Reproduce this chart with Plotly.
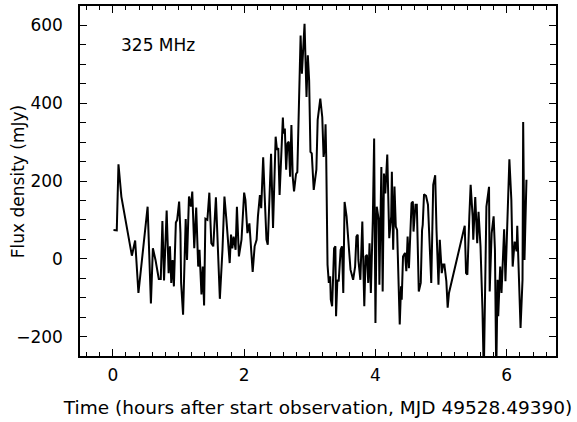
import plotly.graph_objects as go

# Time (hours after start) and flux density (mJy)
time_h = [0.01, 0.06, 0.086, 0.13, 0.29, 0.34, 0.39, 0.53, 0.58, 0.61, 0.65, 0.70, 0.73, 0.755, 0.78,
          0.82, 0.85, 0.87, 0.89, 0.91, 0.93, 0.96, 0.98, 1.01, 1.03, 1.04, 1.07, 1.11, 1.13, 1.16,
          1.19, 1.21, 1.24, 1.27, 1.30, 1.32, 1.35, 1.37, 1.39, 1.41, 1.44, 1.47, 1.50, 1.53, 1.57,
          1.60, 1.63, 1.67, 1.70, 1.73, 1.76, 1.78, 1.80, 1.82, 1.84, 1.87, 1.89, 1.92, 1.96, 2.00,
          2.02, 2.05, 2.08, 2.13, 2.16, 2.19, 2.21, 2.24, 2.26,
          2.29, 2.31, 2.34, 2.36, 2.39, 2.41, 2.44, 2.46, 2.48, 2.50, 2.52, 2.54, 2.56, 2.59, 2.60,
          2.62, 2.64, 2.66, 2.68, 2.70, 2.72, 2.74, 2.76, 2.79, 2.81, 2.83, 2.86, 2.88, 2.91, 2.92,
          2.95, 2.97, 2.99, 3.01, 3.03, 3.06, 3.10, 3.12, 3.16, 3.19, 3.21, 3.23, 3.24, 3.25, 3.27,
          3.29, 3.31, 3.32, 3.34, 3.36, 3.37, 3.39, 3.40, 3.42, 3.44, 3.47, 3.49, 3.51, 3.53, 3.56,
          3.59, 3.62, 3.66, 3.69, 3.71, 3.73, 3.74, 3.77, 3.80, 3.82, 3.83, 3.85, 3.87, 3.89, 3.91,
          3.93, 3.96, 3.98, 4.00,
          4.02, 4.05, 4.06, 4.09, 4.11, 4.13, 4.15, 4.18, 4.21, 4.24, 4.25, 4.27, 4.29, 4.31, 4.33,
          4.37, 4.39, 4.40, 4.42, 4.45, 4.47, 4.49, 4.51, 4.55, 4.57, 4.58, 4.61, 4.63, 4.66, 4.69,
          4.71, 4.72, 4.74, 4.77, 4.80, 4.82, 4.85, 4.88, 4.91, 4.93, 4.96, 4.98, 5.01, 5.03, 5.05,
          5.08, 5.10, 5.12, 5.36, 5.38, 5.40, 5.43, 5.45, 5.48, 5.49, 5.52, 5.55, 5.57, 5.60, 5.63,
          5.65, 5.69, 5.73, 5.74, 5.77, 5.80, 5.82, 5.84, 5.86, 5.87, 5.90, 5.92, 5.94, 5.96, 5.98,
          6.00, 6.02, 6.04, 6.07, 6.09, 6.12, 6.15, 6.16, 6.19, 6.21, 6.24, 6.25, 6.27, 6.29, 6.30]

flux_mjy = [74, 73, 243, 160, 8, 47, -88, 134, -115, 27, -3, -52, -52, 97, -56,
            124, -37, 32, -62, -3, -71, 93, 100, 147, 66, -62, -144, 102, -3, 160,
            134, 173, 27, 132, -20, 23, -92, -20, -120, 103, 100, 170, 40, 32, 158,
            23, -103, 23, 160, 100, 40, -11, 62, 27, 57, 23, 134, 6, 49, 170,
            151, 66, 91, -34, 32, 49, 109, 164, 130,
            261, 173, 49, 36, 203, 270, 79, 186, 314, 280, 285, 164, 262, 363, 322,
            335, 229, 297, 301, 211, 344, 211, 173, 218, 223, 369, 574, 476, 553, 604,
            416, 523, 459, 275, 271, 177, 229, 357, 412, 364, 262, 288, 346, 262, -15,
            -62, -45, -105, -122, -45, 27, 32, -148, -54, -58, 23, 32, -88, 146, 109,
            36, -28, -54, -20, 57, 62, -3, -54, 96, -20, -122, 6, 10, -62, 40,
            -88, 100, 309, -165,
            134, 100, -67, 236, -84, 219, 168, 268, 53, 109, 224, 23, 186, 83, 74,
            -169, -71, -105, 6, 15, -32, 57, -24, 143, 147, 70, 139, 139, -84, -62,
            74, 87, 166, 162, 139, 49, -62, 190, 215, 74, -67, 49, -37, -15, -15,
            -58, -126, -88, 85, -37, -41, 110, 190, 109, 49, 159, 40, 121, 32, -131,
            -300, 134, 185, -84, 66, 109, 23, -300, -54, -148, -20, -88, -11, 76, -58,
            49, 185, 256, 151, -20, 44, 19, 85, -80, -178, -54, 352, -3, 198, 203]

x_ticks = [0, 2, 4, 6]
y_ticks = [-200, 0, 200, 400, 600]
x_range = [-0.5, 6.75]
y_range = [-250, 650]

FONT = "DejaVu Sans"
FS = 17

fig = go.Figure()
fig.add_trace(go.Scatter(x=time_h, y=flux_mjy, mode="lines",
                         line=dict(color="black", width=2), showlegend=False, hoverinfo="skip"))

fig.add_annotation(x=0.09, y=551, xref="x", yref="y", text="325 MHz", showarrow=False,
                   xanchor="left", yanchor="middle", font=dict(family=FONT, size=FS, color="black"))

# y-axis title as a rotated annotation (precise placement)
fig.add_annotation(x=-0.130, y=0.497, xref="paper", yref="paper", text="Flux density (mJy)",
                   showarrow=False, textangle=-90, xanchor="center", yanchor="middle",
                   font=dict(family=FONT, size=FS, color="black"))

axis_common = dict(showgrid=False, zeroline=False, showline=True, linecolor="black", linewidth=1.5,
                   mirror="ticks", ticks="inside", tickcolor="black", tickwidth=1.2,
                   automargin=False, tickfont=dict(family=FONT, size=FS, color="black"))

fig.update_xaxes(range=x_range, tickvals=x_ticks, ticklen=7, ticklabelstandoff=3,
                 minor=dict(dtick=0.2, ticks="inside", ticklen=4, tickcolor="black", tickwidth=1.2),
                 title=dict(text="Time (hours after start observation, MJD 49528.49390)",
                            font=dict(family=FONT, size=18.5, color="black"), standoff=17),
                 **axis_common)
fig.update_yaxes(range=y_range, tickvals=y_ticks, ticklen=7, ticklabelstandoff=12,
                 minor=dict(dtick=50, ticks="inside", ticklen=6, tickcolor="black", tickwidth=1.2),
                 **axis_common)

fig.update_layout(width=577, height=422, margin=dict(l=80, r=21, t=6, b=66),
                  plot_bgcolor="white", paper_bgcolor="white")

fig.write_html("out.html", config={"displayModeBar": False},
               post_script="document.body.style.margin='0';document.body.style.overflow='hidden';")
